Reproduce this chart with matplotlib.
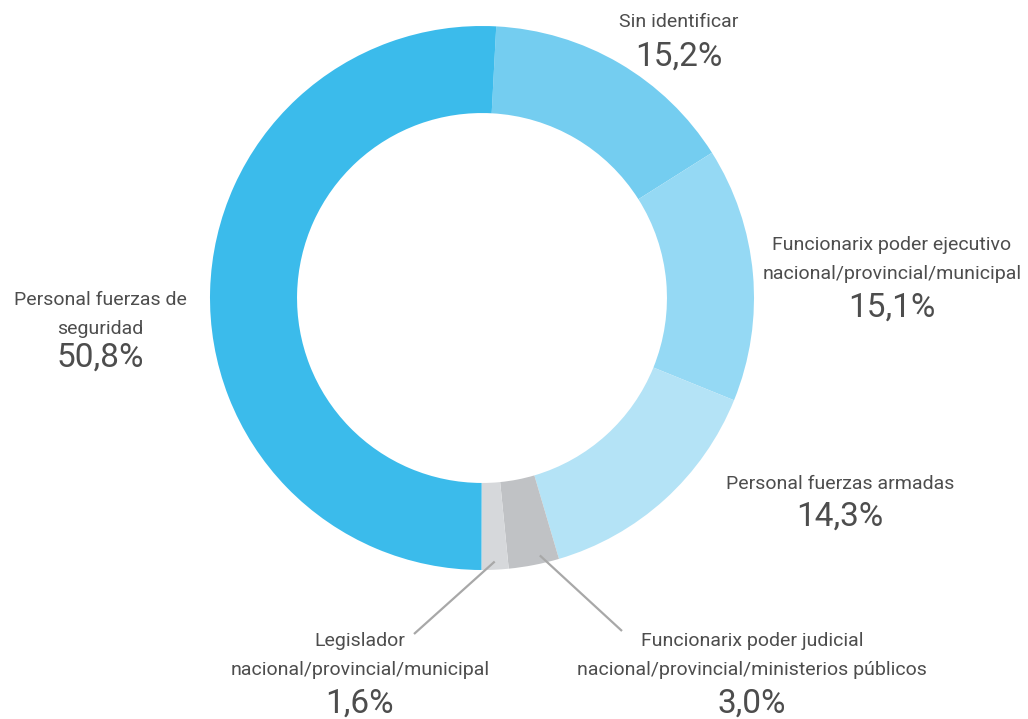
import numpy as np
import matplotlib
matplotlib.use('Agg')
import matplotlib.pyplot as plt

# data, clockwise from the top
labels = ['Sin identificar',
          'Funcionarix poder ejecutivo\nnacional/provincial/municipal',
          'Personal fuerzas armadas',
          'Funcionarix poder judicial\nnacional/provincial/ministerios públicos',
          'Legislador\nnacional/provincial/municipal',
          'Personal fuerzas de\nseguridad']
values = [15.2, 15.1, 14.3, 3.0, 1.6, 50.8]
pct_text = ['15,2%', '15,1%', '14,3%', '3,0%', '1,6%', '50,8%']
colors = ['#74cdf0', '#95d9f4', '#b4e3f6', '#c0c2c5', '#d6d8db', '#3bbbeb']

plt.rcParams['font.family'] = ['Roboto', 'DejaVu Sans']
txt_color = '#4d4d4d'

W, H = 1028, 719
fig = plt.figure(figsize=(W / 100, H / 100), dpi=100)
ax = fig.add_axes([0, 0, 1, 1])

cx, cy, R = 482, H - 298, 272
wedges, _ = ax.pie(values, colors=colors, startangle=87, counterclock=False,
                   center=(cx, cy), radius=R, frame=True,
                   wedgeprops=dict(width=R * 0.32, linewidth=0))
ax.set_xlim(0, W)
ax.set_ylim(0, H)
ax.set_aspect('equal')
ax.axis('off')

# label layout: (x, y of first label line, y of percent) in pixels from top
layout = [(679, 22, 57),
          (892, 245, 308),
          (840, 484, 517),
          (752, 641, 704),
          (360, 641, 704),
          (100, 300, 358)]

for lab, pct, (x, y1, yp) in zip(labels, pct_text, layout):
    for i, line in enumerate(lab.split('\n')):
        ax.text(x, H - (y1 + i * 29), line, ha='center', va='center',
                fontsize=14, color=txt_color)
    ax.text(x, H - yp, pct, ha='center', va='center', fontsize=24,
            color=txt_color)

# leader lines for the two thin slices (start a bit toward the right edge)
ends = {3: (622, 631), 4: (414, 634)}
for i, (ex, ey) in ends.items():
    w = wedges[i]
    ang = np.deg2rad(0.35 * w.theta1 + 0.65 * w.theta2 if i == 3
                     else (w.theta1 + w.theta2) / 2)
    sx = cx + R * 0.97 * np.cos(ang)
    sy = cy + R * 0.97 * np.sin(ang)
    ax.plot([sx, ex], [sy, H - ey], color='#a8a8a8', lw=1.6,
            solid_capstyle='butt')

fig.savefig('out.png', dpi=100)
